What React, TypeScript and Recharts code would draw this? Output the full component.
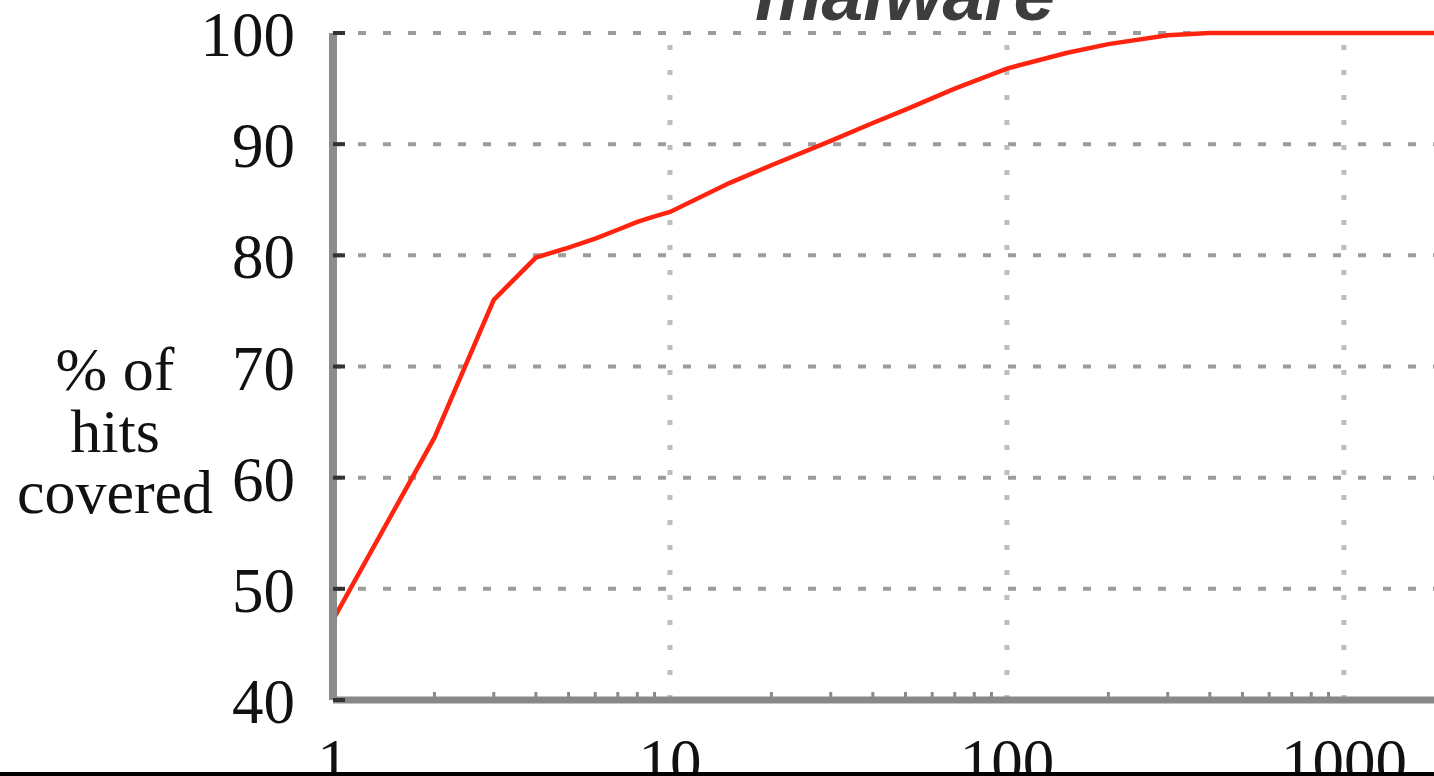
import { CartesianGrid, Line, LineChart, ReferenceLine, XAxis, YAxis } from "recharts";

// number of top hits (log x) vs. cumulative % of hits covered
const hitsRank = [1, 2, 3, 4, 5, 6, 7, 8, 9, 10, 15, 20, 30, 40, 50, 70, 100, 150, 200, 300, 400, 1000, 2000];
const pctCovered = [47.2, 63.6, 76.0, 79.8, 80.7, 81.5, 82.3, 83.0, 83.5, 83.9, 86.5, 88.1, 90.3, 91.9, 93.1, 95.0, 96.8, 98.2, 99.0, 99.8, 100, 100, 100];

const majorX = [1, 10, 100, 1000];
const minorX = [2, 3, 4, 5, 6, 7, 8, 9, 20, 30, 40, 50, 60, 70, 80, 90, 200, 300, 400, 500, 600, 700, 800, 900, 2000];
const gridX = [10, 100, 1000];
const yTicks = [40, 50, 60, 70, 80, 90, 100];
const yLabelLines = ["% of", "hits", "covered"];
const title = "malware";

const data = hitsRank.map((x, i) => ({ x, pct: pctCovered[i] }));

const serif = "'Liberation Serif', 'Times New Roman', serif";

const XTick = (props: any) => {
  const { x, y, payload } = props;
  const v = payload.value;
  if (majorX.includes(v)) {
    return (
      <text x={x} y={y + 83} textAnchor="middle" fontFamily={serif} fontSize={63} fill="#111">
        {v}
      </text>
    );
  }
  return <line x1={x} x2={x} y1={y - 3} y2={y - 8} stroke="#8a8a8a" strokeWidth={3} />;
};

const YTick = (props: any) => {
  const { x, y, payload } = props;
  return (
    <g>
      <line x1={x} x2={x + 12} y1={y} y2={y} stroke="#333" strokeWidth={4} />
      <text x={x - 38} y={y + 23} textAnchor="end" fontFamily={serif} fontSize={63} fill="#111">
        {payload.value}
      </text>
    </g>
  );
};

const YLabel = () => (
  <g>
    {yLabelLines.map((t, i) => (
      <text key={t} x={115} y={390 + i * 61.5} textAnchor="middle" fontFamily={serif} fontSize={62} fill="#111">
        {t}
      </text>
    ))}
  </g>
);

export default function App() {
  return (
    <div style={{ position: "fixed", left: 0, top: 0, width: 1434, height: 776, overflow: "hidden", background: "#fff" }}>
      <div style={{ position: "absolute", left: 0, top: 0 }}>
        <LineChart width={1500} height={776} data={data} margin={{ top: 33, right: 22, bottom: 0, left: 0 }}>
          <CartesianGrid vertical={false} stroke="#9c9c9c" strokeWidth={4} strokeDasharray="8 17" />
          {gridX.map((g) => (
            <ReferenceLine key={g} x={g} stroke="#bdbdbd" strokeWidth={5} strokeDasharray="5 20" />
          ))}
          <XAxis
            dataKey="x"
            type="number"
            scale="log"
            domain={[1, 2500]}
            allowDataOverflow
            ticks={[...majorX, ...minorX]}
            interval={0}
            height={76}
            tickSize={0}
            tickMargin={0}
            tickLine={false}
            axisLine={{ stroke: "#888", strokeWidth: 7 }}
            tick={<XTick />}
          />
          <YAxis
            type="number"
            domain={[40, 100]}
            ticks={yTicks}
            interval={0}
            width={333}
            tickSize={0}
            tickMargin={0}
            tickLine={false}
            axisLine={{ stroke: "#8c8c8c", strokeWidth: 8 }}
            tick={<YTick />}
            label={{ content: <YLabel /> }}
          />
          <Line
            type="linear"
            dataKey="pct"
            stroke="#ff2410"
            strokeWidth={4.5}
            dot={false}
            isAnimationActive={false}
          />
        </LineChart>
      </div>
      <svg width={1434} height={60} style={{ position: "absolute", left: 0, top: 0 }}>
        <text
          x={905}
          y={20}
          textAnchor="middle"
          fontFamily="'Liberation Sans', Arial, sans-serif"
          fontWeight="bold"
          fontStyle="italic"
          fontSize={75}
          fill="#3d3d3d"
        >
          {title}
        </text>
      </svg>
      <div style={{ position: "absolute", left: 0, bottom: 0, width: 1434, height: 4, background: "#000" }} />
    </div>
  );
}
